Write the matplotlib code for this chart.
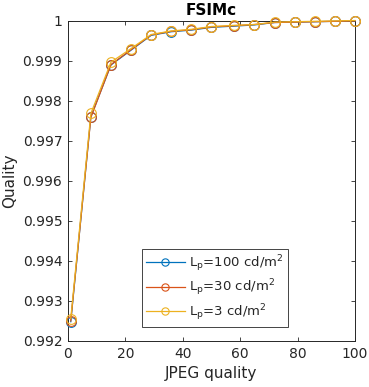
import matplotlib
matplotlib.use("Agg")
import matplotlib.pyplot as plt

# JPEG quality settings (x) and FSIMc quality per peak luminance
jpeg_q = [1, 8, 15, 22, 29, 36, 43, 50, 58, 65, 72, 79, 86, 93, 100]
fsimc_100 = [0.99248, 0.99760, 0.99889, 0.99926, 0.99963, 0.99972, 0.99976,
             0.99983, 0.99986, 0.99989, 0.99995, 0.99996, 0.99997, 0.99998, 0.99999]
fsimc_30 = [0.99250, 0.99758, 0.99890, 0.99927, 0.99964, 0.99973, 0.99977,
            0.99984, 0.99987, 0.99990, 0.99995, 0.99996, 0.99997, 0.99998, 0.99999]
fsimc_3 = [0.99256, 0.99768, 0.99896, 0.99930, 0.99965, 0.99974, 0.99978,
           0.99985, 0.99988, 0.99990, 0.99996, 0.99997, 0.99998, 0.99999, 1.00000]
labels = [r"L$_\mathrm{p}$=100 cd/m$^2$",
          r"L$_\mathrm{p}$=30 cd/m$^2$",
          r"L$_\mathrm{p}$=3 cd/m$^2$"]
colors = ["#0072BD", "#D95319", "#EDB120"]

x_ticks = [0, 20, 40, 60, 80, 100]
y_ticks = [0.992, 0.993, 0.994, 0.995, 0.996, 0.997, 0.998, 0.999, 1.0]
y_ticklabels = ["0.992", "0.993", "0.994", "0.995", "0.996", "0.997",
                "0.998", "0.999", "1"]

txt = "#262626"
plt.rcParams["font.family"] = ["DejaVu Sans"]
plt.rcParams["mathtext.fontset"] = "dejavusans"

fig = plt.figure(figsize=(3.69, 3.87), dpi=100)
ax = fig.add_axes([0.184, 0.119, 0.778, 0.828])

for ys, lab, c in zip([fsimc_100, fsimc_30, fsimc_3], labels, colors):
    ax.plot(jpeg_q, ys, "-o", color=c, linewidth=0.9, markersize=7,
            markerfacecolor="none", markeredgewidth=0.8, label=lab,
            clip_on=False, zorder=3)

ax.set_xlim(0, 100)
ax.set_ylim(0.992, 1.0)
ax.set_xticks(x_ticks)
ax.set_yticks(y_ticks)
ax.set_yticklabels(y_ticklabels)
ax.tick_params(direction="in", top=True, right=True, length=3,
               width=0.6, labelsize=10, colors=txt, pad=4)
for s in ax.spines.values():
    s.set_linewidth(0.7)
    s.set_color(txt)

ax.set_xlabel("JPEG quality", fontsize=11, color=txt, labelpad=4)
ax.set_ylabel("Quality", fontsize=11, color=txt, labelpad=4)
ax.set_title("FSIMc", fontsize=11, fontweight="bold", color="black", pad=4)

# legend box sits in the lower middle, MATLAB-like square frame
leg = ax.legend(loc="upper left", bbox_to_anchor=(0.257, 0.287),
                borderaxespad=0, fontsize=9.5, handlelength=3.0,
                handletextpad=0.3, labelspacing=0.3, borderpad=0.3,
                markerscale=0.75, fancybox=False, framealpha=1,
                edgecolor=txt)
leg.get_frame().set_linewidth(0.6)
leg.set_zorder(5)
for t in leg.get_texts():
    t.set_color(txt)

fig.savefig("out.png", dpi=100)
